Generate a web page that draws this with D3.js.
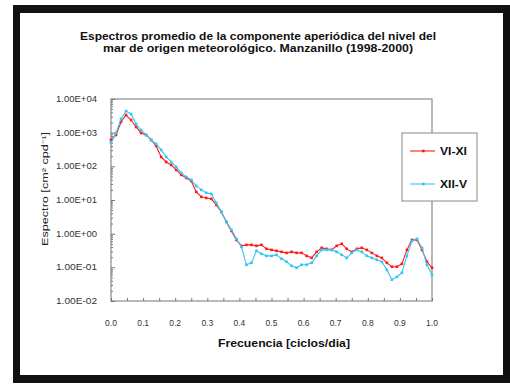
<!DOCTYPE html>
<html><head><meta charset="utf-8">
<script src="https://cdn.jsdelivr.net/npm/d3@7"></script>
<style>body{margin:0;background:#fff}svg{display:block}</style>
</head><body>
<svg id="c" width="510" height="385"></svg>
<script>
const titleLines = ["Espectros promedio de la componente aperiódica del nivel del", "mar de origen meteorológico. Manzanillo (1998-2000)"];
const seriesNames = ["VI-XI", "XII-V"];
const freqStep = 1/64;
const redVI_XI = [607,855,2080,3350,2380,1476,980,855,607,403,190,135,110,78,55.6,45.3,36.9,17.4,12.4,11.5,10.8,7.16,4.44,2.24,1.21,0.655,0.435,0.465,0.465,0.435,0.465,0.354,0.330,0.309,0.288,0.269,0.288,0.269,0.269,0.219,0.191,0.288,0.379,0.354,0.330,0.435,0.498,0.354,0.288,0.354,0.379,0.330,0.269,0.219,0.191,0.136,0.104,0.104,0.127,0.330,0.655,0.655,0.330,0.146,0.097];
const blueXII_V = [494,980,2550,4400,3590,1810,1200,855,607,462,307,190,135,96,63.7,48.4,39.5,26.2,20.0,16.3,15.2,8.2,4.44,2.24,1.30,0.702,0.406,0.119,0.136,0.309,0.252,0.219,0.219,0.235,0.179,0.146,0.111,0.097,0.119,0.119,0.136,0.219,0.330,0.330,0.330,0.288,0.235,0.191,0.269,0.330,0.288,0.219,0.191,0.167,0.146,0.084,0.043,0.052,0.069,0.219,0.611,0.702,0.379,0.119,0.060];
const yTickValues = [1e4,1e3,1e2,1e1,1e0,1e-1,1e-2];
const yTickLabels = ["1.00E+04","1.00E+03","1.00E+02","1.00E+01","1.00E+00","1.00E-01","1.00E-02"];
const xTickValues = [0,0.1,0.2,0.3,0.4,0.5,0.6,0.7,0.8,0.9,1.0];
const xTickLabels = ["0.0","0.1","0.2","0.3","0.4","0.5","0.6","0.7","0.8","0.9","1.0"];
const colors = ["#ff1a1a", "#33c6f4"];

const svg = d3.select("#c");
const font = "Liberation Sans, Arial, sans-serif";
// frame
svg.append("rect").attr("x",13).attr("y",5).attr("width",497).attr("height",378).attr("fill","#111");
svg.append("rect").attr("x",20).attr("y",13).attr("width",483).attr("height",362).attr("fill","#fff");

const L=111, R=432, T=99, B=301;
const x = d3.scaleLinear().domain([0,1]).range([L,R]);
const y = d3.scaleLog().domain([1e-2,1e4]).range([B,T]);

// title
const titleW = [356, 310];
titleLines.forEach((t,i)=>{
  svg.append("text").attr("x",258).attr("y",40+i*12).attr("text-anchor","middle")
    .attr("font-family",font).attr("font-weight","bold").attr("font-size",11).attr("fill","#111")
    .attr("textLength",titleW[i]).attr("lengthAdjust","spacingAndGlyphs").text(t);
});

// plot frame
svg.append("rect").attr("x",L).attr("y",T).attr("width",R-L).attr("height",B-T)
  .attr("fill","none").attr("stroke","#8a8a8a").attr("stroke-width",1.2);

// y axis ticks inside
const minor = [];
for (let e=-2;e<4;e++) for (let k=2;k<10;k++) minor.push(k*Math.pow(10,e));
const gy = svg.append("g").attr("transform",`translate(${L},0)`);
gy.call(d3.axisRight(y).tickValues(minor).tickSize(2).tickFormat(""));
gy.append("g").call(d3.axisRight(y).tickValues(yTickValues).tickSize(4).tickFormat(""));
gy.selectAll("path.domain").remove();
gy.selectAll("line").attr("stroke","#777");
svg.append("g").selectAll("text").data(yTickValues).join("text")
  .attr("x",97).attr("y",d=>y(d)+3).attr("text-anchor","end")
  .attr("font-family",font).attr("font-size",8.5).attr("fill","#333")
  .attr("textLength",41).attr("lengthAdjust","spacingAndGlyphs")
  .text((d,i)=>yTickLabels[i]);

// x axis ticks inside
const gx = svg.append("g").attr("transform",`translate(0,${B})`);
gx.call(d3.axisTop(x).tickValues(d3.range(0,1.001,0.05)).tickSize(3).tickFormat(""));
gx.selectAll("path.domain").remove();
gx.selectAll("line").attr("stroke","#777");
svg.append("g").selectAll("text").data(xTickValues).join("text")
  .attr("x",d=>x(d)).attr("y",325.5).attr("text-anchor","middle")
  .attr("font-family",font).attr("font-size",8.5).attr("fill","#333")
  .text((d,i)=>xTickLabels[i]);

// axis titles
svg.append("text").attr("x",284).attr("y",346.5).attr("text-anchor","middle")
  .attr("font-family",font).attr("font-weight","bold").attr("font-size",11).attr("fill","#111")
  .attr("textLength",132).attr("lengthAdjust","spacingAndGlyphs")
  .text("Frecuencia [ciclos/dia]");
svg.append("text").attr("transform","translate(48,189) rotate(-90)").attr("text-anchor","middle")
  .attr("font-family",font).attr("font-size",8.5).attr("fill","#222")
  .attr("textLength",114).attr("lengthAdjust","spacingAndGlyphs")
  .text("Espectro [cm² cpd⁻¹]");

// series
const line = d3.line().x((d,i)=>x(i*freqStep)).y(d=>y(d));
[redVI_XI, blueXII_V].forEach((s,k)=>{
  svg.append("path").datum(s).attr("d",line).attr("fill","none").attr("stroke",colors[k]).attr("stroke-width",1.1);
  svg.append("g").selectAll("rect").data(s).join("rect")
    .attr("x",(d,i)=>x(i*freqStep)-1.3).attr("y",d=>y(d)-1.3).attr("width",2.6).attr("height",2.6)
    .attr("fill",colors[k]);
});

// legend
const lg = svg.append("g");
lg.append("rect").attr("x",402).attr("y",133).attr("width",75).attr("height",68)
  .attr("fill","#fff").attr("stroke","#888").attr("stroke-width",1);
seriesNames.forEach((n,k)=>{
  const ly = 151 + k*33;
  lg.append("line").attr("x1",410).attr("x2",435).attr("y1",ly).attr("y2",ly).attr("stroke",colors[k]).attr("stroke-width",1.1);
  lg.append("rect").attr("x",422).attr("y",ly-1.3).attr("width",2.6).attr("height",2.6).attr("fill",colors[k]);
  lg.append("text").attr("x",440).attr("y",ly+3.5).attr("font-family",font).attr("font-weight","bold")
    .attr("font-size",10).attr("fill","#111").attr("textLength",27).attr("lengthAdjust","spacingAndGlyphs").text(n);
});
</script>
</body></html>
